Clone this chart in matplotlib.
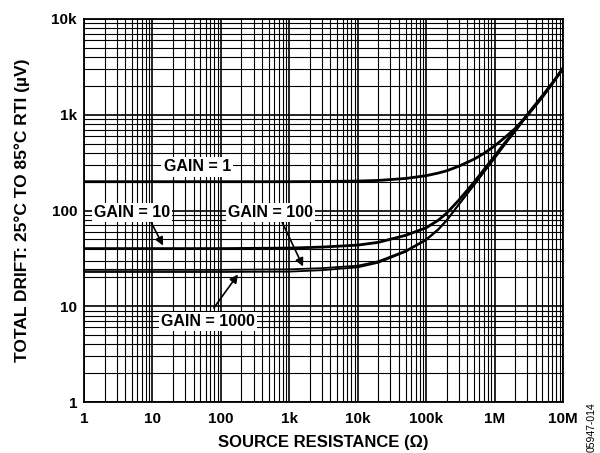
import numpy as np
import matplotlib
matplotlib.use('Agg')
import matplotlib.pyplot as plt
from matplotlib.ticker import FixedLocator, FixedFormatter, LogLocator, NullFormatter

plt.rcParams['font.family'] = ['Liberation Sans', 'DejaVu Sans']
plt.rcParams['font.weight'] = 'bold'

# source resistance (ohm) and total drift (uV)
r_src = [1, 10, 100, 1e3, 3e3, 1e4, 2e4, 5e4, 1e5, 1.5e5, 2e5, 3e5, 5e5, 7e5,
         1e6, 1.5e6, 2e6, 3e6, 5e6, 7e6, 1e7]
drift_g1 = [200, 200, 200, 200, 201, 203, 206, 216, 231, 246, 260, 290, 343, 395,
            472, 600, 718, 979, 1530, 2122, 3087]
drift_g10 = [40, 40, 40, 40.5, 41.5, 43.5, 46.5, 55, 66, 79, 94, 128, 197, 267,
             370, 537, 689, 1000, 1578, 2146, 3020]
drift_g100 = [24, 24, 24, 24.3, 25, 26.5, 29.5, 38, 50, 63.8, 79.6, 116, 185, 253,
              352, 518, 670, 985, 1578, 2152, 3000]
drift_g1000 = [22.8, 22.8, 22.8, 23, 23.8, 25.5, 28.5, 37, 49, 62.8, 78.5, 115, 184, 252,
               351, 517, 669, 984, 1577, 2150, 3000]

x_ticks = [1, 10, 100, 1e3, 1e4, 1e5, 1e6, 1e7]
x_labels = ['1', '10', '100', '1k', '10k', '100k', '1M', '10M']
y_ticks = [1, 10, 100, 1e3, 1e4]
y_labels = ['1', '10', '100', '1k', '10k']

fig = plt.figure(figsize=(6.0, 4.53), dpi=100)
ax = fig.add_axes([84/600, 1 - 402/453, (563-84)/600, (402-19)/453])

ax.set_xscale('log')
ax.set_yscale('log')
ax.set_xlim(1, 1e7)
ax.set_ylim(1, 1e4)

ax.xaxis.set_major_locator(FixedLocator(x_ticks))
ax.xaxis.set_major_formatter(FixedFormatter(x_labels))
ax.yaxis.set_major_locator(FixedLocator(y_ticks))
ax.yaxis.set_major_formatter(FixedFormatter(y_labels))
ax.xaxis.set_minor_locator(LogLocator(base=10, subs=np.arange(2, 10), numticks=20))
ax.yaxis.set_minor_locator(LogLocator(base=10, subs=np.arange(2, 10), numticks=20))
ax.xaxis.set_minor_formatter(NullFormatter())
ax.yaxis.set_minor_formatter(NullFormatter())

ax.grid(which='major', color='black', lw=1.2)
ax.grid(which='minor', color='black', lw=0.8)
ax.tick_params(which='both', length=0, labelsize=11)
ax.tick_params(axis='x', pad=7)
ax.tick_params(axis='y', pad=5)
for s in ax.spines.values():
    s.set_linewidth(1.3)

ax.plot(r_src, drift_g1, color='black', lw=2.0, zorder=3)
ax.plot(r_src, drift_g10, color='black', lw=2.0, zorder=3)
ax.plot(r_src, drift_g100, color='black', lw=1.3, zorder=3)
ax.plot(r_src, drift_g1000, color='black', lw=1.3, zorder=3)

box = dict(facecolor='white', edgecolor='none', pad=1.5)
txt = dict(fontsize=11.5, fontweight='bold', ha='center', va='center', bbox=box, zorder=5)
ax.text(45, 285, 'GAIN = 1', **txt)
ax.text(5, 96, 'GAIN = 10', **txt)
ax.text(525, 96, 'GAIN = 100', **txt)
ax.text(65, 6.9, 'GAIN = 1000', **txt)

arrow = dict(arrowstyle='-|>', color='black', lw=1.2, mutation_scale=12, shrinkA=0, shrinkB=0)
ax.annotate('', xy=(14.3, 43), xytext=(9.5, 76), arrowprops=arrow, zorder=4)
ax.annotate('', xy=(1590, 26), xytext=(782, 76), arrowprops=arrow, zorder=4)
ax.annotate('', xy=(178, 21.5), xytext=(79, 9.6), arrowprops=arrow, zorder=4)

ax.set_xlabel('SOURCE RESISTANCE (\u03a9)', fontsize=12, fontweight='bold')
ax.set_ylabel('TOTAL DRIFT: 25\u00b0C TO 85\u00b0C RTI (\u00b5V)', fontsize=12.5, fontweight='bold')
ax.xaxis.set_label_coords(0.5, -(443 - 402) / 383)
ax.yaxis.set_label_coords(-(84 - 22) / 479, 0.5)
ax.xaxis.label.set_va('center')
ax.yaxis.label.set_va('center')

fig.text(592/600, 1 - 402/453, '05947-014', rotation=90, fontsize=7.5, fontweight='normal',
         ha='center', va='top')

fig.savefig('out.png', dpi=100)
